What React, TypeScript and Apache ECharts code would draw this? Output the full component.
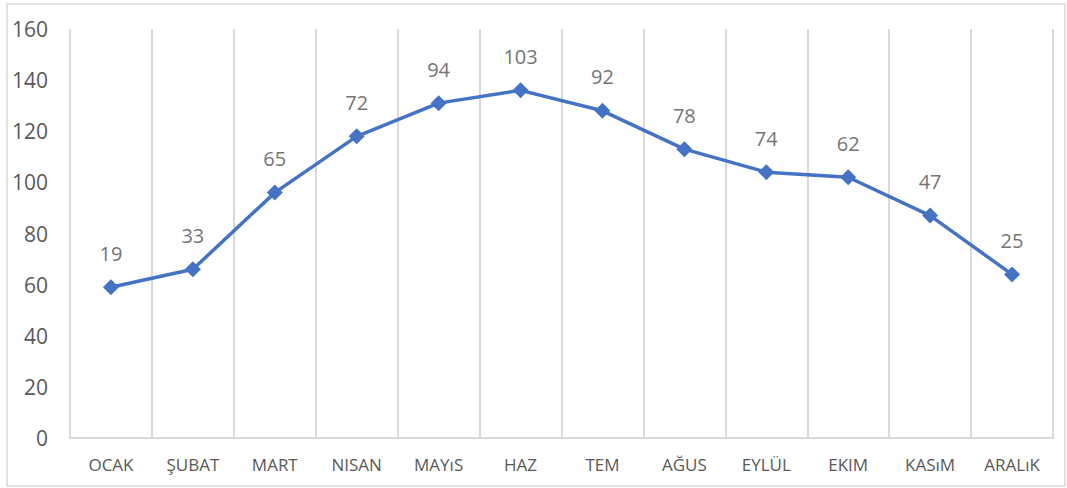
import React, { useEffect, useRef } from "react";
import * as echarts from "echarts";

const months = ["OCAK", "ŞUBAT", "MART", "NISAN", "MAYıS", "HAZ", "TEM", "AĞUS", "EYLÜL", "EKIM", "KASıM", "ARALıK"];
const values = [59, 66, 96, 118, 131, 136, 128, 113, 104, 102, 87, 64];
const labels = [19, 33, 65, 72, 94, 103, 92, 78, 74, 62, 47, 25];

export default function App() {
  const ref = useRef<HTMLDivElement>(null);
  useEffect(() => {
    if (!ref.current) return;
    const chart = echarts.init(ref.current, undefined, { renderer: "svg" });
    chart.setOption({
      animation: false,
      backgroundColor: "#ffffff",
      textStyle: { fontFamily: "Open Sans" },
      graphic: [
        {
          type: "rect",
          shape: { x: 7, y: 4, width: 1058, height: 482 },
          style: { fill: "none", stroke: "#d9d9d9", lineWidth: 1.5 },
          silent: true,
          z: -1,
        },
      ],
      grid: { left: 70, right: 14, top: 29, bottom: 50 },
      xAxis: {
        type: "category",
        data: months,
        boundaryGap: true,
        axisLine: { show: true, lineStyle: { color: "#d9d9d9", width: 2 } },
        axisTick: { show: false },
        splitLine: { show: true, lineStyle: { color: "#d9d9d9", width: 2 } },
        axisLabel: {
          color: "#595959",
          fontSize: 17,
          fontFamily: "Open Sans",
          margin: 18,
          interval: 0,
        },
      },
      yAxis: {
        type: "value",
        min: 0,
        max: 160,
        interval: 20,
        axisLine: { show: false },
        axisTick: { show: false },
        splitLine: { show: false },
        axisLabel: {
          color: "#595959",
          fontSize: 21,
          fontFamily: "Open Sans",
          margin: 22,
        },
      },
      series: [
        {
          type: "line",
          data: values,
          symbol: "diamond",
          symbolSize: 16,
          lineStyle: { color: "#4472C4", width: 3.5 },
          itemStyle: { color: "#4472C4" },
          label: {
            show: true,
            position: "top",
            distance: 16,
            color: "#757575",
            fontSize: 20,
            fontFamily: "Open Sans",
            formatter: (p: any) => String(labels[p.dataIndex]),
          },
        },
      ],
    });
    return () => chart.dispose();
  }, []);
  return (
    <div
      ref={ref}
      style={{ position: "fixed", left: 0, top: 0, width: 1067, height: 488 }}
    />
  );
}
